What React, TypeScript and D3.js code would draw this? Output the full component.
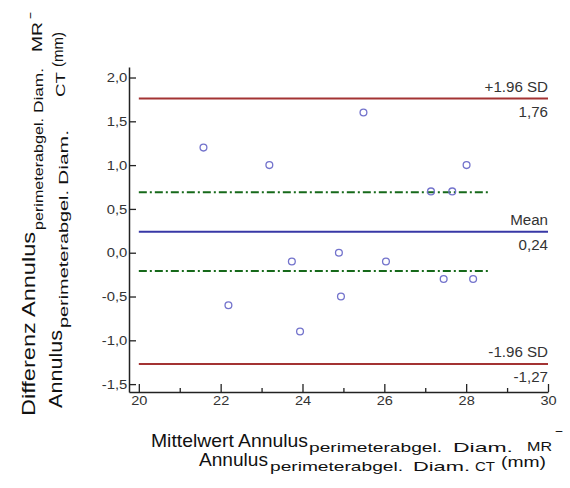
import React, { useEffect, useRef } from "react";
import * as d3 from "d3";

// ---- data ----
const meanX = [21.58, 23.19, 25.49, 27.14, 27.66, 28.01, 23.74, 24.89, 26.04, 27.45, 28.17, 22.19, 24.94, 23.94];
const diffY = [1.2, 1.0, 1.6, 0.7, 0.7, 1.0, -0.1, 0.0, -0.1, -0.3, -0.3, -0.6, -0.5, -0.9];
const refValues = [1.76, 0.24, -1.27];
const refNames = ["+1.96 SD", "Mean", "-1.96 SD"];
const refLabels = ["1,76", "0,24", "-1,27"];
const ciValues = [0.69, -0.21];
const ciXStart = 20;
const ciXEnd = 28.57;
const xMajorTicks = [20, 22, 24, 26, 28, 30];
const xMinorTicks = [21, 23, 25, 27, 29];
const yTicks = [-1.5, -1.0, -0.5, 0.0, 0.5, 1.0, 1.5, 2.0];
const xDomain = [19.76, 30];
const yDomain = [-1.59, 2.12];

const W = 570;
const H = 488;
const FONT = "'Liberation Sans', Arial, sans-serif";
const refColors = ["#a33333", "#3838a6", "#a33333"];
const ciColor = "#16691a";
const pointColor = "#7373cc";

type HS = { t: string; a: number; b: number; y: number; s: number };
type VS = { t: string; a: number; b: number; x: number; s: number };

// title segments: horizontal (a..b = x extent), vertical (a..b = y extent bottom->top)
const xTitle: HS[] = [
  { t: "Mittelwert Annulus", a: 151, b: 308, y: 446.5, s: 18.5 },
  { t: "perimeterabgel.", a: 309, b: 442, y: 452, s: 13.5 },
  { t: "Diam.", a: 453, b: 513, y: 452, s: 13.5 },
  { t: "MR", a: 527, b: 552, y: 451, s: 13.5 },
  { t: "−", a: 555, b: 563, y: 435.5, s: 13 },
  { t: "Annulus", a: 199, b: 268, y: 466, s: 18.5 },
  { t: "perimeterabgel.", a: 270, b: 403, y: 471, s: 13.5 },
  { t: "Diam.", a: 413, b: 470, y: 471, s: 13.5 },
  { t: "CT", a: 475, b: 495, y: 471, s: 13.5 },
  { t: "(mm)", a: 501, b: 546, y: 467, s: 14 },
];
const yTitle: VS[] = [
  { t: "Differenz Annulus", a: 416, b: 232, x: 35, s: 18.5 },
  { t: "perimeterabgel.", a: 230, b: 118, x: 43, s: 13.5 },
  { t: "Diam.", a: 113, b: 68, x: 43, s: 13.5 },
  { t: "MR", a: 52, b: 22, x: 42, s: 14 },
  { t: "−", a: 19, b: 12, x: 35, s: 13 },
  { t: "Annulus", a: 408, b: 330, x: 62, s: 18.5 },
  { t: "perimeterabgel.", a: 328, b: 190, x: 68, s: 13.5 },
  { t: "Diam.", a: 185, b: 130, x: 68, s: 13.5 },
  { t: "CT", a: 97, b: 72, x: 65, s: 13.5 },
  { t: "(mm)", a: 67, b: 32, x: 63, s: 15 },
];

export default function App() {
  const ref = useRef<SVGGElement | null>(null);

  useEffect(() => {
    const svg = d3.select(ref.current);
    svg.selectAll("*").remove();

    const x = d3.scaleLinear().domain(xDomain).range([129, 548]);
    const y = d3.scaleLinear().domain(yDomain).range([392, 67]);

    const loc = d3.formatLocale({ decimal: ",", thousands: ".", grouping: [3], currency: ["", ""], minus: "-" });
    const fmt = loc.format(".1f");

    // Y axis
    const gy = svg.append("g").attr("transform", `translate(${x(xDomain[0])},0)`)
      .call(d3.axisLeft(y).tickValues(yTicks).tickFormat(fmt as any).tickSizeInner(-7).tickSizeOuter(0).tickPadding(1.5));
    gy.selectAll("text").attr("font-family", FONT).attr("font-size", 13).attr("fill", "#333")
      .attr("transform", "scale(1.14,1)");
    gy.selectAll("line").attr("stroke", "#222").attr("stroke-width", 1.3);
    gy.select(".domain").attr("stroke", "#222").attr("stroke-width", 1.5);

    // X axis minor
    const gxm = svg.append("g").attr("transform", `translate(0,${y(yDomain[0])})`)
      .call(d3.axisBottom(x).tickValues(xMinorTicks).tickFormat(() => "").tickSizeInner(-4).tickSizeOuter(0));
    gxm.select(".domain").remove();
    gxm.selectAll("line").attr("stroke", "#222").attr("stroke-width", 1.3);

    // X axis major
    const gx = svg.append("g").attr("transform", `translate(0,${y(yDomain[0])})`)
      .call(d3.axisBottom(x).tickValues(xMajorTicks).tickFormat(d3.format("d") as any).tickSizeInner(-8).tickSizeOuter(0).tickPadding(4));
    gx.selectAll("text").attr("font-family", FONT).attr("font-size", 13).attr("fill", "#333")
      .attr("transform", "scale(1.12,1)");
    gx.selectAll("line").attr("stroke", "#222").attr("stroke-width", 1.3);
    gx.select(".domain").attr("stroke", "#222").attr("stroke-width", 1.5);

    // CI lines
    svg.append("g").selectAll("line").data(ciValues).join("line")
      .attr("x1", x(ciXStart)).attr("x2", x(ciXEnd))
      .attr("y1", (d) => y(d)).attr("y2", (d) => y(d))
      .attr("stroke", ciColor).attr("stroke-width", 2)
      .attr("stroke-dasharray", "8,3,2,3");

    // reference lines
    const refData = refValues.map((v, i) => ({ v, name: refNames[i], label: refLabels[i], color: refColors[i] }));
    const gr = svg.append("g");
    gr.selectAll("line").data(refData).join("line")
      .attr("x1", x(20)).attr("x2", x(30))
      .attr("y1", (d) => y(d.v)).attr("y2", (d) => y(d.v))
      .attr("stroke", (d) => d.color).attr("stroke-width", 2);
    gr.selectAll("text.nm").data(refData).join("text").attr("class", "nm")
      .attr("transform", (d) => `translate(${x(30)},${y(d.v) - 7}) scale(1.08,1)`)
      .attr("text-anchor", "end").attr("font-family", FONT).attr("font-size", 14).attr("fill", "#333")
      .text((d) => d.name);
    gr.selectAll("text.lb").data(refData).join("text").attr("class", "lb")
      .attr("transform", (d) => `translate(${x(30)},${y(d.v) + 18}) scale(1.08,1)`)
      .attr("text-anchor", "end").attr("font-family", FONT).attr("font-size", 14).attr("fill", "#333")
      .text((d) => d.label);

    // points
    const pts = meanX.map((mx, i) => ({ mx, dy: diffY[i] }));
    svg.append("g").selectAll("circle").data(pts).join("circle")
      .attr("cx", (d) => x(d.mx)).attr("cy", (d) => y(d.dy)).attr("r", 3.4)
      .attr("fill", "none").attr("stroke", pointColor).attr("stroke-width", 1.3);
  }, []);

  return (
    <svg width={W} height={H} style={{ position: "absolute", left: 0, top: 0, background: "#fff" }}>
      <g ref={ref} />
      <g fontFamily={FONT} fill="#111">
        {xTitle.map((s, i) => (
          <text key={"x" + i} x={s.a} y={s.y} fontSize={s.s} textLength={s.b - s.a} lengthAdjust="spacingAndGlyphs">
            {s.t}
          </text>
        ))}
        {yTitle.map((s, i) => (
          <text key={"y" + i} transform={`translate(${s.x},${s.a}) rotate(-90)`} fontSize={s.s}
            textLength={s.a - s.b} lengthAdjust="spacingAndGlyphs">
            {s.t}
          </text>
        ))}
      </g>
    </svg>
  );
}
